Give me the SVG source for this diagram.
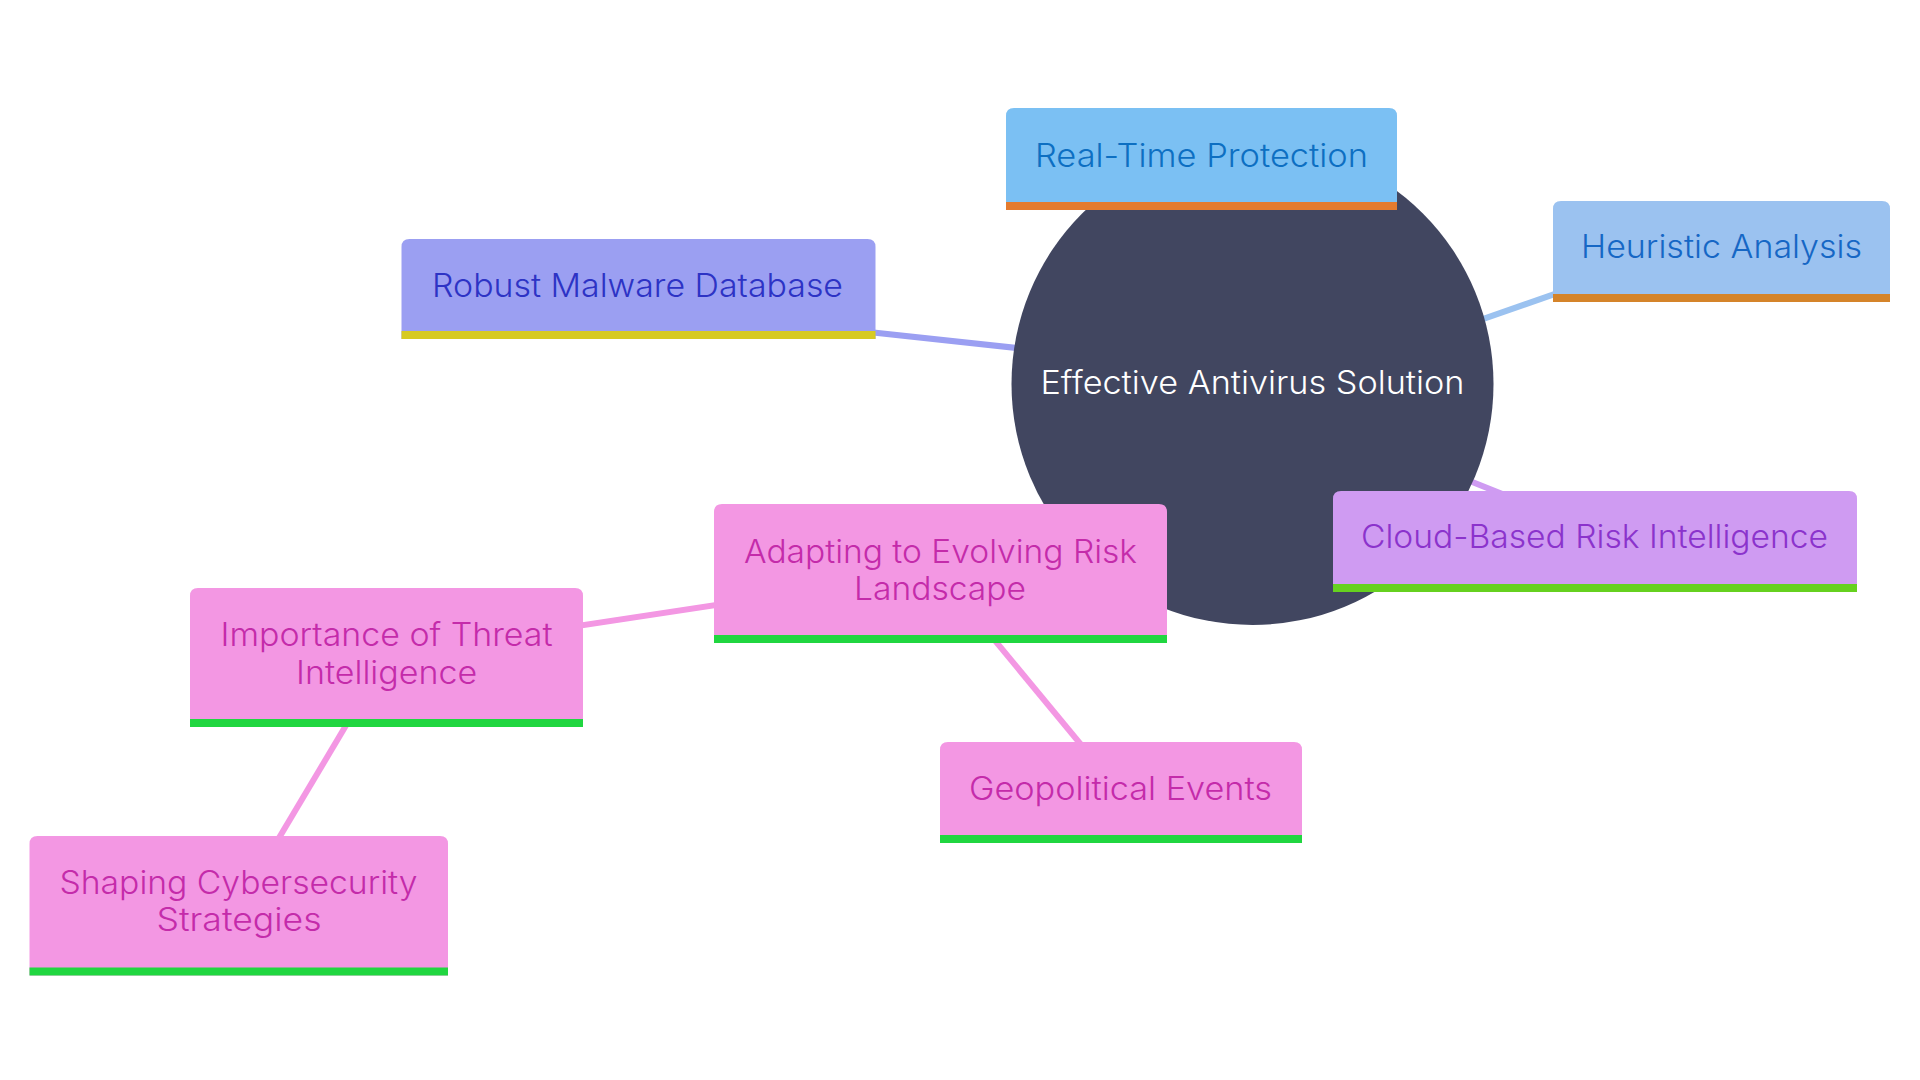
<svg xmlns="http://www.w3.org/2000/svg" width="1920" height="1080" viewBox="0 0 1920 1080">
  <style>
    .edge { fill: none; stroke-width: 6; stroke-linecap: butt; }
    .lbl { font-family: Inter, "Noto Sans", "Liberation Sans", sans-serif; font-size: 32px; font-weight: 300; text-anchor: middle; }
    .bar { stroke: none; }
    .c1 .box { fill: #7bc0f3; } .c1 .bar { fill: #e47b2e; } .c1 .lbl { fill: #0d6fc2; }
    .c2 .box { fill: #9bc2f0; } .c2 .bar { fill: #d5842a; } .c2 .lbl { fill: #1667c5; }
    .c3 .box { fill: #9b9ff2; } .c3 .bar { fill: #d7ca22; } .c3 .lbl { fill: #2d33c5; }
    .c4 .box { fill: #cf9bf2; } .c4 .bar { fill: #66d11f; } .c4 .lbl { fill: #8b33cc; }
    .c5 .box { fill: #f397e3; } .c5 .bar { fill: #20d640; } .c5 .lbl { fill: #c42baa; }
  </style>
  <rect width="1920" height="1080" fill="#ffffff"/>
  <g id="connectors">
    <line class="edge" x1="1252" y1="384" x2="1201" y2="159" stroke="#7bc0f3"/>
    <line class="edge" x1="1400" y1="348" x2="1721" y2="236" stroke="#9bc2f0"/>
    <line class="edge" x1="638" y1="307" x2="1100" y2="357" stroke="#9b9ff2"/>
    <line class="edge" x1="1300" y1="413" x2="1595" y2="531" stroke="#cf9bf2"/>
    <line class="edge" x1="1252" y1="384" x2="940" y2="574" stroke="#f397e3"/>
    <line class="edge" x1="386" y1="655" x2="940" y2="571" stroke="#f397e3"/>
    <line class="edge" x1="940" y1="574" x2="1121" y2="793" stroke="#f397e3"/>
    <line class="edge" x1="386.7" y1="657" x2="238.7" y2="905.7" stroke="#f397e3"/>
  </g>
  <g id="root">
    <circle cx="1252.5" cy="384" r="241" fill="#414660"/>
    <text class="lbl" x="1252.5" y="394" fill="#ffffff" textLength="424" lengthAdjust="spacingAndGlyphs">Effective Antivirus Solution</text>
  </g>
  <g id="realtime" class="c1">
    <path class="box" d="M1006 210 V116 Q1006 108 1014 108 H1389 Q1397 108 1397 116 V210 Z"/>
    <rect class="bar" x="1006" y="202" width="391" height="8"/>
    <text class="lbl" x="1201.5" y="167" textLength="333" lengthAdjust="spacingAndGlyphs">Real-Time Protection</text>
  </g>
  <g id="heuristic" class="c2">
    <path class="box" d="M1553 302 V209 Q1553 201 1561 201 H1882 Q1890 201 1890 209 V302 Z"/>
    <rect class="bar" x="1553" y="294" width="337" height="8"/>
    <text class="lbl" x="1721.5" y="258" textLength="281" lengthAdjust="spacingAndGlyphs">Heuristic Analysis</text>
  </g>
  <g id="robust" class="c3">
    <path class="box" d="M401.5 339 V247 Q401.5 239 409.5 239 H867.5 Q875.5 239 875.5 247 V339 Z"/>
    <rect class="bar" x="401.5" y="331" width="474" height="8"/>
    <text class="lbl" x="637.5" y="297" textLength="411" lengthAdjust="spacingAndGlyphs">Robust Malware Database</text>
  </g>
  <g id="cloud" class="c4">
    <path class="box" d="M1333 592 V499 Q1333 491 1341 491 H1849 Q1857 491 1857 499 V592 Z"/>
    <rect class="bar" x="1333" y="584" width="524" height="8"/>
    <text class="lbl" x="1594.5" y="548" textLength="467" lengthAdjust="spacingAndGlyphs">Cloud-Based Risk Intelligence</text>
  </g>
  <g id="adapting" class="c5">
    <path class="box" d="M714 643 V512 Q714 504 722 504 H1159 Q1167 504 1167 512 V643 Z"/>
    <rect class="bar" x="714" y="635" width="453" height="8"/>
    <text class="lbl" x="940.5" y="563" textLength="393" lengthAdjust="spacingAndGlyphs">Adapting to Evolving Risk</text>
    <text class="lbl" x="940" y="599.5" textLength="172" lengthAdjust="spacingAndGlyphs">Landscape</text>
  </g>
  <g id="importance" class="c5">
    <path class="box" d="M190 727 V596 Q190 588 198 588 H575 Q583 588 583 596 V727 Z"/>
    <rect class="bar" x="190" y="719" width="393" height="8"/>
    <text class="lbl" x="386.6" y="646" textLength="332" lengthAdjust="spacingAndGlyphs">Importance of Threat</text>
    <text class="lbl" x="386.6" y="683.5" textLength="181" lengthAdjust="spacingAndGlyphs">Intelligence</text>
  </g>
  <g id="geopolitical" class="c5">
    <path class="box" d="M940 843 V750 Q940 742 948 742 H1294 Q1302 742 1302 750 V843 Z"/>
    <rect class="bar" x="940" y="835" width="362" height="8"/>
    <text class="lbl" x="1120.5" y="800" textLength="303" lengthAdjust="spacingAndGlyphs">Geopolitical Events</text>
  </g>
  <g id="shaping" class="c5">
    <path class="box" d="M29.5 975.5 V844 Q29.5 836 37.5 836 H440 Q448 836 448 844 V975.5 Z"/>
    <rect class="bar" x="29.5" y="967.5" width="418.5" height="8"/>
    <text class="lbl" x="238.5" y="893.5" textLength="358" lengthAdjust="spacingAndGlyphs">Shaping Cybersecurity</text>
    <text class="lbl" x="239" y="931" textLength="165" lengthAdjust="spacingAndGlyphs">Strategies</text>
  </g>
</svg>
